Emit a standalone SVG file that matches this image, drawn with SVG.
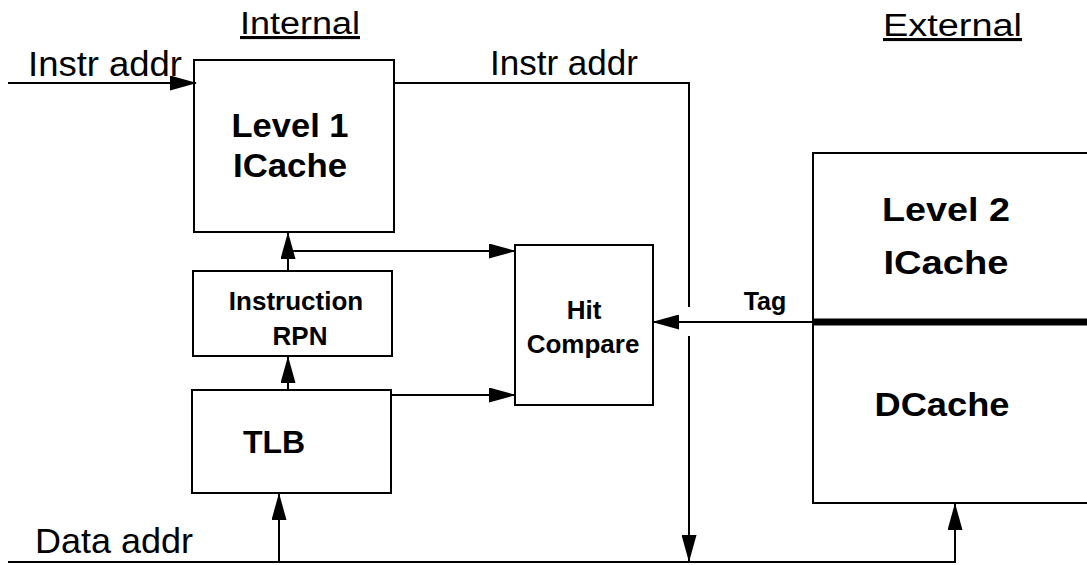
<svg xmlns="http://www.w3.org/2000/svg" width="1087" height="565" viewBox="0 0 1087 565">
<defs>
<marker id="ah" markerUnits="userSpaceOnUse" markerWidth="27" markerHeight="15" refX="26" refY="7.5" orient="auto">
<path d="M0,0 L27,7.5 L0,15 z" fill="#000"/>
</marker>
<style>
.box{fill:#fff;stroke:#000;stroke-width:2}
.ln{fill:none;stroke:#000;stroke-width:2}
.lbl{font-family:"Liberation Sans",Arial,sans-serif;font-size:35px;fill:#000}
.hdr{font-family:"Liberation Sans",Arial,sans-serif;font-size:31px;fill:#000;text-decoration:underline}
.bt{font-family:"Liberation Sans",Arial,sans-serif;font-weight:bold;fill:#000;text-anchor:middle}
.big{font-size:33px}
.sm{font-size:26px}
</style>
</defs>
<rect width="1087" height="565" fill="#fff"/>
<text class="hdr" x="240" y="34" textLength="120" lengthAdjust="spacingAndGlyphs">Internal</text>
<text class="hdr" x="883" y="36" textLength="139" lengthAdjust="spacingAndGlyphs">External</text>
<text class="lbl" x="28" y="76" textLength="154" lengthAdjust="spacingAndGlyphs">Instr addr</text>
<text class="lbl" x="490" y="75" textLength="148" lengthAdjust="spacingAndGlyphs">Instr addr</text>
<text class="lbl" x="35" y="553" textLength="158" lengthAdjust="spacingAndGlyphs">Data addr</text>
<g id="l1icache">
<rect class="box" x="194" y="60" width="200" height="172"/>
<text class="bt big" x="290" y="137" textLength="117" lengthAdjust="spacingAndGlyphs">Level 1</text>
<text class="bt big" x="290" y="177" textLength="114" lengthAdjust="spacingAndGlyphs">ICache</text>
</g>
<g id="rpn">
<rect class="box" x="193" y="271" width="199" height="85"/>
<text class="bt sm" x="296" y="310">Instruction</text>
<text class="bt sm" x="300" y="345">RPN</text>
</g>
<g id="tlb">
<rect class="box" x="192" y="390" width="199" height="103"/>
<text class="bt" x="274" y="453" font-size="32">TLB</text>
</g>
<g id="hit">
<rect class="box" x="515" y="245" width="138" height="160"/>
<text class="bt sm" x="584" y="319">Hit</text>
<text class="bt sm" x="583" y="353">Compare</text>
</g>
<g id="l2cache">
<rect class="box" x="813" y="153" width="300" height="350"/>
<text class="bt big" x="946" y="221" textLength="128" lengthAdjust="spacingAndGlyphs">Level 2</text>
<text class="bt big" x="946" y="274" textLength="125" lengthAdjust="spacingAndGlyphs">ICache</text>
<text class="bt big" x="942" y="416" textLength="135" lengthAdjust="spacingAndGlyphs">DCache</text>
<line x1="813" y1="322" x2="1090" y2="322" stroke="#000" stroke-width="7"/>
</g>
<g id="connectors">
<line class="ln" x1="8" y1="83" x2="196" y2="83" marker-end="url(#ah)"/>
<path class="ln" d="M394,83 H689 V307"/>
<line class="ln" x1="689" y1="336" x2="689" y2="561" marker-end="url(#ah)"/>
<path class="ln" d="M8,562 H955 V504" marker-end="url(#ah)"/>
<line class="ln" x1="279" y1="562" x2="279" y2="494" marker-end="url(#ah)"/>
<line class="ln" x1="288" y1="390" x2="288" y2="357" marker-end="url(#ah)"/>
<line class="ln" x1="288" y1="271" x2="288" y2="233" marker-end="url(#ah)"/>
<line class="ln" x1="288" y1="251" x2="515" y2="251" marker-end="url(#ah)"/>
<line class="ln" x1="391" y1="395" x2="515" y2="395" marker-end="url(#ah)"/>
<line class="ln" x1="813" y1="322" x2="653" y2="322" marker-end="url(#ah)"/>
<text class="bt" x="765" y="310" font-size="25">Tag</text>
</g>
</svg>
